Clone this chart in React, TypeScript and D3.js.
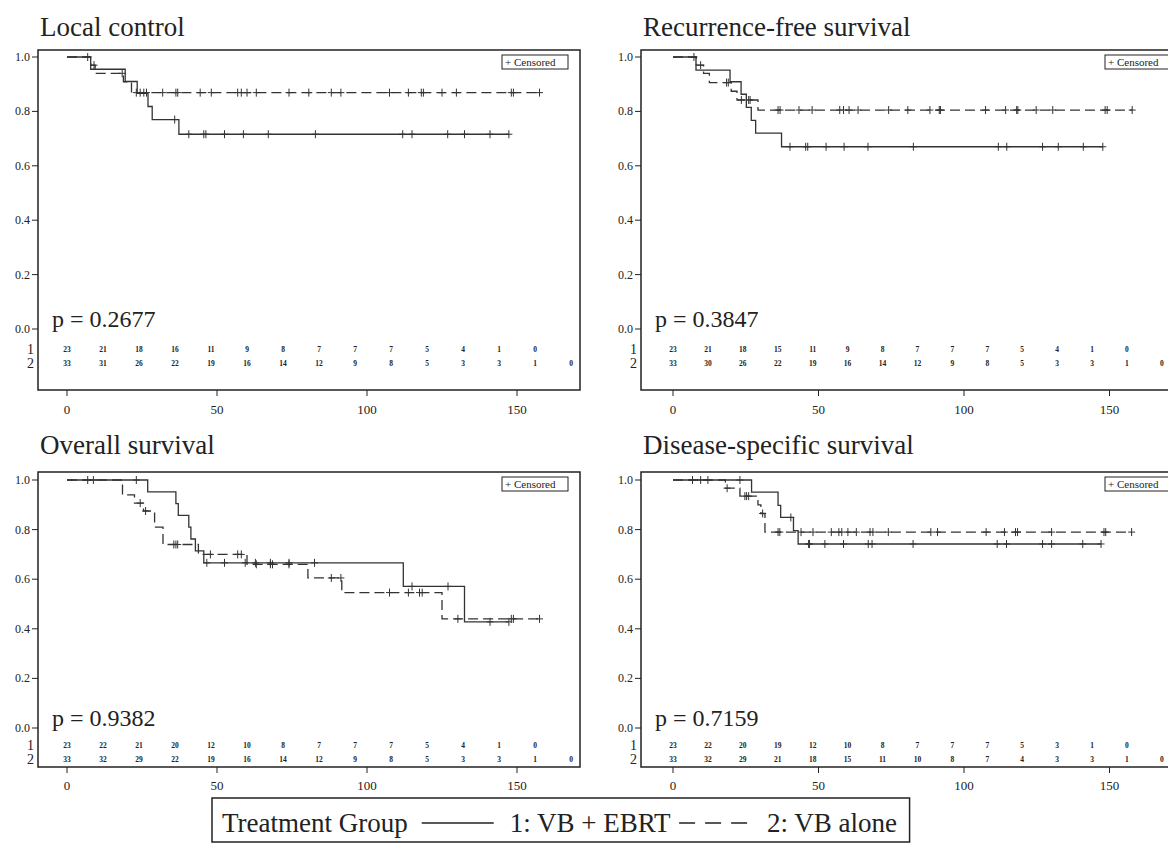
import React from 'react';
import * as d3 from 'd3';

// months at which the numbers at risk are printed
const riskTimes = [0, 12, 24, 36, 48, 60, 72, 84, 96, 108, 120, 132, 144, 156, 168];
const xTicks = [0, 50, 100, 150];
const yTicks = [0, 0.2, 0.4, 0.6, 0.8, 1.0];

// Local control: [month, survival after the event]
const lcSteps1 = [[7.9, 0.955], [19.4, 0.91], [23.4, 0.866], [27, 0.818], [28.4, 0.77], [37.3, 0.716]];
const lcCens1 = [6.9, 35.9, 40.6, 45.6, 46.3, 52.5, 58.8, 67.1, 82.8, 111.9, 115, 126.9, 132.5, 141, 147.3];
const lcSteps2 = [[7.9, 0.97], [9.4, 0.94], [18.8, 0.909], [21.5, 0.869]];
const lcCens2 = [9.0, 18.4, 23.1, 24.4, 25.6, 26.5, 31.9, 36.3, 36.9, 44.4, 48.1, 56.9, 58.1, 60, 63.1, 74, 80.6, 88.1, 91.3, 107.5, 113.8, 118.1, 118.8, 125, 129.8, 148.1, 148.8, 157.5];
const lcRisk1 = [23, 21, 18, 16, 11, 9, 8, 7, 7, 7, 5, 4, 1, 0];
const lcRisk2 = [33, 31, 26, 22, 19, 16, 14, 12, 9, 8, 5, 3, 3, 1, 0];

// Recurrence-free survival
const rfsSteps1 = [[7.9, 0.952], [19.6, 0.909], [23.4, 0.863], [25.2, 0.815], [26.9, 0.767], [28.4, 0.72], [37.3, 0.67]];
const rfsCens1 = [7.2, 40.2, 45.6, 46.3, 52.6, 58.8, 67, 82.6, 111.8, 114.7, 127, 132.4, 141, 147.7];
const rfsSteps2 = [[8, 0.97], [10.5, 0.94], [12.5, 0.906], [20, 0.874], [22, 0.842], [29.2, 0.805]];
const rfsCens2 = [9.5, 18.4, 19.0, 23.5, 26.0, 26.5, 36.1, 36.8, 43.3, 47.8, 57.3, 58.6, 60.5, 63.6, 74.1, 80.7, 88.3, 91.5, 91.9, 107.4, 114.3, 118.1, 118.5, 124.8, 130.5, 148.5, 149.2, 157.8];
const rfsRisk1 = [23, 21, 18, 15, 11, 9, 8, 7, 7, 7, 5, 4, 1, 0];
const rfsRisk2 = [33, 30, 26, 22, 19, 16, 14, 12, 9, 8, 5, 3, 3, 1, 0];

// Overall survival
const osSteps1 = [[26.9, 0.952], [36.3, 0.905], [37.1, 0.857], [40.6, 0.81], [41.3, 0.762], [42.8, 0.714], [45.6, 0.666], [112.1, 0.571], [132.5, 0.428]];
const osCens1 = [6.9, 8.8, 23.1, 46.6, 52.5, 59.4, 62.8, 67.8, 74, 82.5, 115, 127, 141, 147.3];
const osSteps2 = [[18.5, 0.94], [22.5, 0.907], [25.5, 0.875], [29.2, 0.81], [32, 0.74], [43.8, 0.70], [60, 0.66], [80.3, 0.605], [91.6, 0.546], [125, 0.44]];
const osCens2 = [24.4, 26.2, 35.6, 36.3, 36.9, 47.8, 56.9, 58.1, 63.1, 67.8, 68.5, 74, 88.1, 91.3, 107.5, 113.8, 117.5, 118.4, 130.3, 148.1, 148.8, 157.5];
const osRisk1 = [23, 22, 21, 20, 12, 10, 8, 7, 7, 7, 5, 4, 1, 0];
const osRisk2 = [33, 32, 29, 22, 19, 16, 14, 12, 9, 8, 5, 3, 3, 1, 0];

// Disease-specific survival
const dssSteps1 = [[27, 0.951], [36.1, 0.898], [37, 0.849], [41.4, 0.796], [43, 0.742]];
const dssCens1 = [6.7, 9.5, 12, 23, 40.5, 46.6, 46.9, 52.2, 58.6, 67.1, 68.4, 82.5, 111.4, 114.6, 127, 130.1, 140.8, 147.1];
const dssSteps2 = [[18, 0.967], [23, 0.935], [29.2, 0.90], [30.2, 0.865], [31.6, 0.79]];
const dssCens2 = [18.6, 24.7, 25.3, 26, 30.8, 36.1, 36.7, 44, 48.1, 54.4, 57, 58, 60.1, 63, 67.7, 68.7, 74, 88.6, 90.9, 107.6, 113.9, 117.7, 118.4, 130.1, 148.1, 148.7, 157.6];
const dssRisk1 = [23, 22, 20, 19, 12, 10, 8, 7, 7, 7, 5, 3, 1, 0];
const dssRisk2 = [33, 32, 29, 21, 18, 15, 11, 10, 8, 7, 4, 3, 3, 1, 0];

const legendLabels = ['Treatment Group', '1: VB + EBRT', '2: VB alone'];

const FONT = '"Liberation Serif", "Times New Roman", serif';
const INK = '#222';
const LINE = '#333';
const FRAME_W = 542;

const columns = [
  { left: 38, zeroX: 67, ppu: 3.0 },
  { left: 641, zeroX: 673, ppu: 2.91 },
];
const rows = [
  { title: 36, top: 50, y1: 57, y0: 329, r1: 349, r2: 363, axis: 390, lab: 414 },
  { title: 454, top: 472, y1: 480, y0: 728, r1: 745, r2: 759, axis: 767, lab: 790 },
];

const panels = [
  { title: 'Local control', p: 'p = 0.2677', col: 0, row: 0, s1: lcSteps1, c1: lcCens1, s2: lcSteps2, c2: lcCens2, k1: lcRisk1, k2: lcRisk2 },
  { title: 'Recurrence-free survival', p: 'p = 0.3847', col: 1, row: 0, s1: rfsSteps1, c1: rfsCens1, s2: rfsSteps2, c2: rfsCens2, k1: rfsRisk1, k2: rfsRisk2 },
  { title: 'Overall survival', p: 'p = 0.9382', col: 0, row: 1, s1: osSteps1, c1: osCens1, s2: osSteps2, c2: osCens2, k1: osRisk1, k2: osRisk2 },
  { title: 'Disease-specific survival', p: 'p = 0.7159', col: 1, row: 1, s1: dssSteps1, c1: dssCens1, s2: dssSteps2, c2: dssCens2, k1: dssRisk1, k2: dssRisk2 },
];

const survAt = (steps: number[][], t: number) => {
  let s = 1;
  steps.forEach(d => { if (d[0] <= t) s = d[1]; });
  return s;
};

let ctx: CanvasRenderingContext2D | null = null;
const textWidth = (s: string, size: number) => {
  if (!ctx) ctx = document.createElement('canvas').getContext('2d');
  if (!ctx) return s.length * size * 0.5;
  ctx.font = `${size}px ${FONT}`;
  return ctx.measureText(s).width;
};

function Curve({ steps, cens, x, y, dash }: any) {
  const end = Math.max(d3.max(cens as number[]) || 0, steps[steps.length - 1][0]);
  const pts: [number, number][] = [[0, 1], ...steps.map((d: number[]) => [d[0], d[1]] as [number, number]), [end, steps[steps.length - 1][1]]];
  const line = d3.line<[number, number]>().x(d => x(d[0])).y(d => y(d[1])).curve(d3.curveStepAfter);
  const marks = cens.map((t: number) => {
    const cx = x(t), cy = y(survAt(steps, t));
    return `M${cx - 3.5},${cy}H${cx + 3.5}M${cx},${cy - 4}V${cy + 4}`;
  }).join('');
  return (
    <g fill="none" stroke={LINE} strokeWidth={1.3}>
      <path d={line(pts) || ''} strokeDasharray={dash ? '10 5' : undefined} />
      <path d={marks} strokeWidth={1} />
    </g>
  );
}

function Panel({ cfg }: any) {
  const c = columns[cfg.col];
  const r = rows[cfg.row];
  const x = d3.scaleLinear().domain([0, 150]).range([c.zeroX, c.zeroX + 150 * c.ppu]);
  const y = d3.scaleLinear().domain([0, 1]).range([r.y0, r.y1]);
  const right = c.left + FRAME_W;
  return (
    <g fontFamily={FONT} fill={INK}>
      <text x={c.left + 2} y={r.title} fontSize={27}>{cfg.title}</text>
      <rect x={c.left} y={r.top} width={FRAME_W} height={r.axis - r.top} fill="none" stroke={INK} strokeWidth={1.5} />
      {yTicks.map(v => (
        <g key={v}>
          <line x1={c.left - 6} x2={c.left} y1={y(v)} y2={y(v)} stroke={INK} />
          <text x={c.left - 8} y={y(v) + 4} fontSize={12} textAnchor="end">{v.toFixed(1)}</text>
        </g>
      ))}
      {xTicks.map(v => (
        <g key={v}>
          <line x1={x(v)} x2={x(v)} y1={r.axis} y2={r.axis + 6} stroke={INK} />
          <text x={x(v)} y={r.lab} fontSize={13} textAnchor="middle">{v}</text>
        </g>
      ))}
      <Curve steps={cfg.s1} cens={cfg.c1} x={x} y={y} dash={false} />
      <Curve steps={cfg.s2} cens={cfg.c2} x={x} y={y} dash={true} />
      <text x={c.left + 14} y={r.y0 - 2} fontSize={24}>{cfg.p}</text>
      <text x={c.left - 4} y={r.r1 + 5} fontSize={14} textAnchor="end">1</text>
      <text x={c.left - 4} y={r.r2 + 5} fontSize={14} textAnchor="end">2</text>
      {cfg.k1.map((n: number, i: number) => (
        <text key={'a' + i} x={x(riskTimes[i])} y={r.r1 + 3} fontSize={7.5} fontWeight="bold" textAnchor="middle">{n}</text>
      ))}
      {cfg.k2.map((n: number, i: number) => (
        <text key={'b' + i} x={x(riskTimes[i])} y={r.r2 + 3} fontSize={7.5} fontWeight="bold" textAnchor="middle">{n}</text>
      ))}
      <rect x={right - 78} y={r.top + 5} width={66} height={14} fill="#fff" stroke={INK} strokeWidth={1} />
      <text x={right - 75} y={r.top + 16} fontSize={11}>+ Censored</text>
    </g>
  );
}

function Legend() {
  const size = 27;
  const y = 832;
  const x0 = 222;
  const w0 = textWidth(legendLabels[0], size);
  const l1 = x0 + w0 + 14;
  const t1 = l1 + 72 + 16;
  const w1 = textWidth(legendLabels[1], size);
  const l2 = t1 + w1 + 8;
  const t2 = l2 + 72 + 16;
  const w2 = textWidth(legendLabels[2], size);
  const boxR = t2 + w2 + 12;
  return (
    <g fontFamily={FONT} fill={INK}>
      <rect x={212} y={798} width={boxR - 212} height={44} fill="none" stroke={INK} strokeWidth={1.5} />
      <text x={x0} y={y} fontSize={size}>{legendLabels[0]}</text>
      <line x1={l1} x2={l1 + 72} y1={y - 9} y2={y - 9} stroke={INK} strokeWidth={1.5} />
      <text x={t1} y={y} fontSize={size}>{legendLabels[1]}</text>
      <line x1={l2} x2={l2 + 72} y1={y - 9} y2={y - 9} stroke={INK} strokeWidth={1.5} strokeDasharray="16 10" />
      <text x={t2} y={y} fontSize={size}>{legendLabels[2]}</text>
    </g>
  );
}

export default function App() {
  return (
    <svg width={1168} height={844} style={{ position: 'absolute', left: 0, top: 0, background: '#fff' }}>
      <rect width={1168} height={844} fill="#fff" />
      {panels.map(p => <Panel key={p.title} cfg={p} />)}
      <Legend />
    </svg>
  );
}
